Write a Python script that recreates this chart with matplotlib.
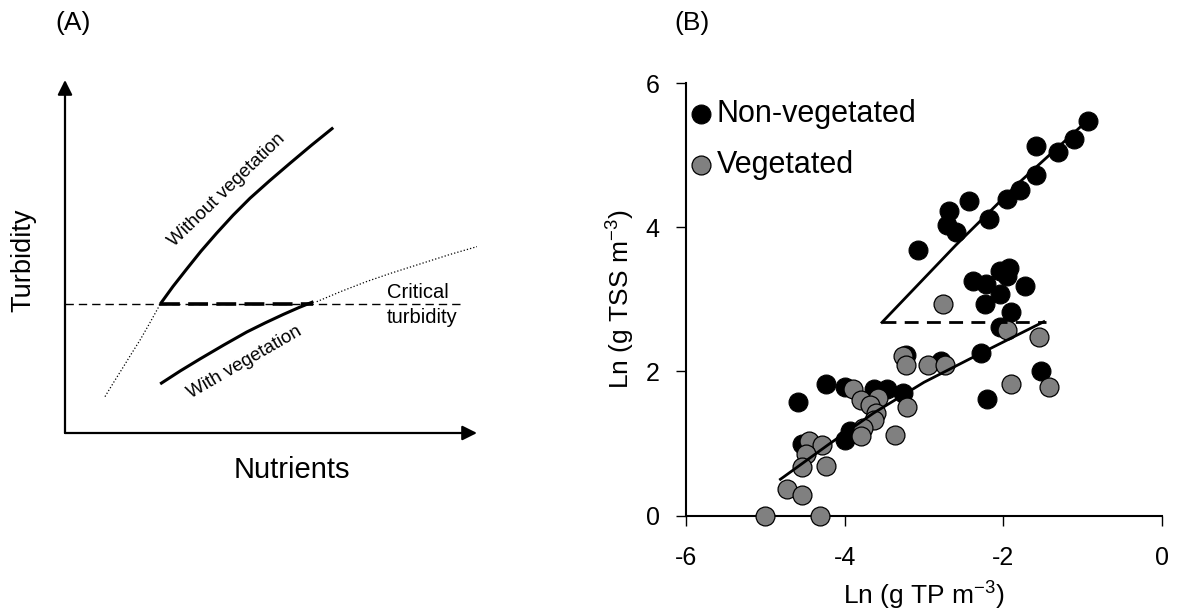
import numpy as np
import matplotlib
matplotlib.use('Agg')
import matplotlib.pyplot as plt

plt.rcParams['font.family'] = ['Liberation Sans', 'DejaVu Sans']
plt.rcParams['axes.unicode_minus'] = False
plt.rcParams['mathtext.default'] = 'regular'

# ---- panel A: schematic curves (arbitrary units, 0-10) ----
critical_y = 3.65
crit_x_end = 9.6
without_x = [2.31, 2.62, 2.95, 3.30, 3.68, 4.08, 4.49, 4.97, 5.46, 5.98, 6.51]
without_y = [3.65, 4.15, 4.64, 5.15, 5.66, 6.17, 6.65, 7.15, 7.64, 8.15, 8.65]
with_x = [2.31, 2.80, 3.28, 3.85, 4.41, 4.86, 5.30, 5.67, 6.03]
with_y = [1.39, 1.76, 2.10, 2.49, 2.86, 3.12, 3.36, 3.55, 3.72]
dot_left_x = [0.97, 1.20, 1.42, 1.62, 1.82, 2.06, 2.31]
dot_left_y = [1.03, 1.47, 1.88, 2.26, 2.63, 3.12, 3.65]
dot_right_x = [6.11, 6.70, 7.32, 7.92, 8.54, 9.35, 10.15]
dot_right_y = [3.72, 4.01, 4.29, 4.53, 4.76, 5.06, 5.33]

# ---- panel B: ln TP vs ln TSS ----
nonveg_x = [-0.93, -1.11, -1.31, -1.59, -1.59, -1.79, -1.95, -2.18, -2.43, -2.68,
            -2.71, -2.60, -3.08, -2.38, -2.22, -2.04, -1.93, -1.95, -1.73, -2.04,
            -2.23, -1.90, -2.04, -2.28, -1.52, -2.21, -4.23, -4.00, -4.59, -3.63,
            -3.47, -3.26, -3.23, -2.79, -3.93, -4.00, -4.54, -3.55]
nonveg_y = [5.48, 5.23, 5.05, 5.13, 4.72, 4.52, 4.39, 4.12, 4.36, 4.23,
            4.03, 3.94, 3.68, 3.26, 3.21, 3.39, 3.44, 3.33, 3.19, 3.07,
            2.93, 2.82, 2.61, 2.25, 2.00, 1.62, 1.82, 1.78, 1.58, 1.75,
            1.75, 1.70, 2.23, 2.14, 1.17, 1.05, 1.00, 1.72]
veg_x = [-2.76, -1.95, -1.55, -3.26, -3.23, -2.95, -2.74, -1.90, -1.43, -3.89,
         -3.79, -3.58, -3.68, -3.61, -3.63, -3.21, -3.37, -3.77, -3.79, -4.45,
         -4.28, -4.49, -4.54, -4.23, -4.73, -4.54, -5.01, -4.31]
veg_y = [2.94, 2.57, 2.48, 2.21, 2.09, 2.09, 2.09, 1.82, 1.79, 1.75,
         1.61, 1.63, 1.54, 1.42, 1.33, 1.51, 1.12, 1.21, 1.10, 1.03,
         0.98, 0.85, 0.68, 0.69, 0.37, 0.29, 0.00, 0.00]
fit_nonveg_x = [-3.53, -2.60, -1.80, -1.00]
fit_nonveg_y = [2.68, 3.75, 4.62, 5.42]
fit_veg_x = [-4.81, -4.20, -3.64, -3.00, -2.27, -1.49]
fit_veg_y = [0.505, 0.99, 1.42, 1.85, 2.26, 2.69]
thresh_y = 2.68
thresh_x = [-3.53, -1.46]

fig = plt.figure(figsize=(11.82, 6.13), dpi=100)
W, H = 1182, 613

# panel A
axA = fig.add_axes([65 / W, (H - 433) / H, 412 / W, 353 / H])
axA.set_xlim(0, 10)
axA.set_ylim(0, 10)
axA.axis('off')
for tip in [(10, 0), (0, 10)]:
    axA.annotate('', xy=tip, xytext=(0, 0), annotation_clip=False,
                 arrowprops=dict(arrowstyle='-|>', lw=1.6, color='black',
                                 mutation_scale=22, shrinkA=0, shrinkB=0))
axA.plot([0, crit_x_end], [critical_y, critical_y], ls=(0, (6, 3.6)), lw=1.0, color='black')
axA.plot([without_x[0], with_x[-1]], [critical_y, critical_y], ls=(0, (5.5, 2.3)),
         lw=2.6, color='black')
axA.plot(without_x, without_y, lw=2.2, color='black', solid_capstyle='butt',
         solid_joinstyle='round')
axA.plot(with_x, with_y, lw=2.2, color='black', solid_capstyle='butt',
         solid_joinstyle='round')
axA.plot(dot_left_x, dot_left_y, ls=':', lw=0.9, color='black')
axA.plot(dot_right_x, dot_right_y, ls=':', lw=0.9, color='black')
axA.text(3.93, 6.88, 'Without vegetation', rotation=44, fontsize=13.5,
         ha='center', va='center', rotation_mode='anchor')
axA.text(4.35, 2.01, 'With vegetation', rotation=30, fontsize=13.5,
         ha='center', va='center', rotation_mode='anchor')
axA.text(7.82, 3.97, 'Critical', fontsize=14.5, ha='left', va='center')
axA.text(7.82, 3.26, 'turbidity', fontsize=14.5, ha='left', va='center')
fig.text(23 / W, 1 - 260 / H, 'Turbidity', rotation=90, fontsize=19.5,
         ha='center', va='center')
fig.text(292 / W, 1 - 470 / H, 'Nutrients', fontsize=21, ha='center', va='center')
fig.text(73 / W, 1 - 23 / H, '(A)', fontsize=19, ha='center', va='center')
fig.text(692 / W, 1 - 23 / H, '(B)', fontsize=19, ha='center', va='center')

# panel B
axB = fig.add_axes([686 / W, (H - 515.7) / H, 476 / W, 432.7 / H])
axB.scatter(nonveg_x, nonveg_y, s=185, c='black', edgecolors='black', lw=0.8,
            zorder=2, clip_on=False, label='Non-vegetated')
axB.scatter(veg_x, veg_y, s=185, c='#808080', edgecolors='black', lw=0.9,
            zorder=3, clip_on=False, label='Vegetated')
axB.plot(fit_nonveg_x, fit_nonveg_y, color='black', lw=2.0, zorder=4)
axB.plot(fit_veg_x, fit_veg_y, color='black', lw=2.0, zorder=4)
axB.plot(thresh_x, [thresh_y, thresh_y], color='black', lw=2.0,
         ls=(0, (5, 3)), zorder=4)

axB.set_xlim(-6, 0)
axB.set_ylim(0, 6)
axB.set_xticks([-6, -4, -2, 0])
axB.set_yticks([0, 2, 4, 6])
axB.spines['top'].set_visible(False)
axB.spines['right'].set_visible(False)
axB.spines['left'].set_linewidth(1.5)
axB.spines['bottom'].set_linewidth(1.5)
axB.tick_params(direction='out', length=7, width=1.0, labelsize=18)
axB.tick_params(axis='x', pad=15)
axB.tick_params(axis='y', pad=12)
axB.set_xlabel('Ln (g TP m$^{-3}$)', fontsize=19, labelpad=7)
axB.set_ylabel('Ln (g TSS m$^{-3}$)', fontsize=19, labelpad=6)
axB.legend(loc='upper left', bbox_to_anchor=(-0.045, 1.012), frameon=False,
           fontsize=22, handletextpad=0.0, labelspacing=0.68,
           borderaxespad=0.3, handlelength=1.0, markerscale=1.0)

fig.savefig('out.png', dpi=100)
